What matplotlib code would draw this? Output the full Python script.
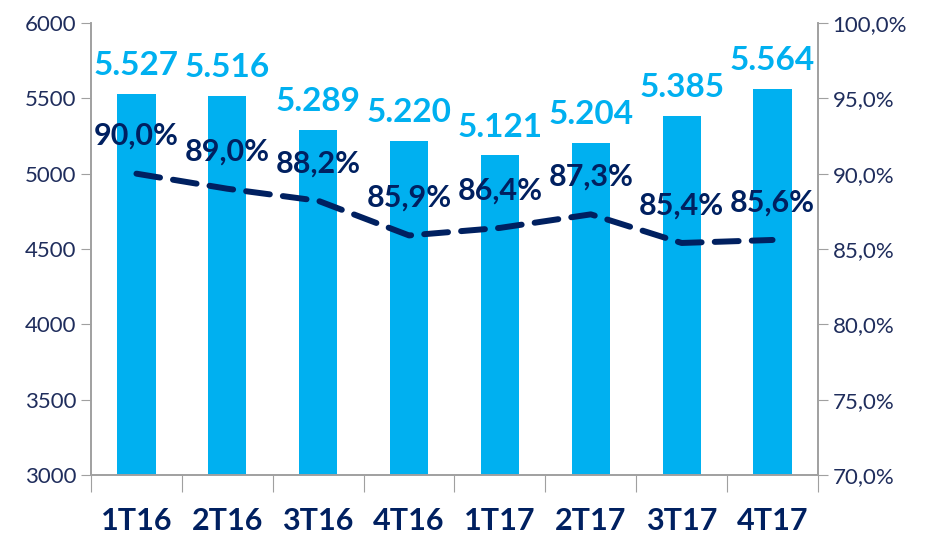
import matplotlib.pyplot as plt
from matplotlib import font_manager
import numpy as np

# dados
trimestres = ['1T16', '2T16', '3T16', '4T16', '1T17', '2T17', '3T17', '4T17']
valores = [5527, 5516, 5289, 5220, 5121, 5204, 5385, 5564]
percentuais = [90.0, 89.0, 88.2, 85.9, 86.4, 87.3, 85.4, 85.6]

azul_barra = '#00B0F0'
azul_escuro = '#002060'
cor_eixo = '#1F2D5C'

names = {f.name for f in font_manager.fontManager.ttflist}
fonte = 'Lato' if 'Lato' in names else 'DejaVu Sans'
plt.rcParams['font.family'] = [fonte, 'DejaVu Sans']

fig = plt.figure(figsize=(9.25, 5.36), dpi=100)
ax = fig.add_axes([0.0984, 0.1138, 0.7859, 0.8433])
ax2 = ax.twinx()

x = np.arange(len(trimestres))
ax.bar(x, valores, width=0.42, color=azul_barra, zorder=2)
ax.set_ylim(3000, 6000)
ax.set_xlim(-0.5, len(trimestres) - 0.5)
ax.set_yticks(range(3000, 6001, 500))

for xi, v in zip(x, valores):
    txt = f'{v:,}'.replace(',', '.')
    ax.annotate(txt, (xi, v), xytext=(0, 10), textcoords='offset points',
                ha='center', va='bottom', fontsize=24, fontweight='bold',
                color=azul_barra)

ax2.plot(x, percentuais, color=azul_escuro, lw=4.3, linestyle=(0, (4, 2.2)),
         dash_capstyle='round', zorder=3)
ax2.set_ylim(70, 100)
ax2.set_yticks(range(70, 101, 5))
ax2.set_yticklabels([f'{p:.1f}%'.replace('.', ',') for p in range(70, 101, 5)])

for xi, p in zip(x, percentuais):
    ax2.annotate(f'{p:.1f}%'.replace('.', ','), (xi, p), xytext=(0, 17),
                 textcoords='offset points', ha='center', va='bottom',
                 fontsize=22, fontweight='bold', color=azul_escuro)

# eixo x: marcas entre categorias
ax.set_xticks(np.arange(-0.5, len(trimestres), 1))
ax.set_xticklabels([])
ax.set_xticks(x, minor=True)
ax.set_xticklabels(trimestres, minor=True, fontsize=22, fontweight='bold',
                   color=azul_escuro)
ax.tick_params(axis='x', which='major', length=12, color='#A0A0A0', direction='out')
ax.tick_params(axis='x', which='minor', length=0, pad=23)

ax.tick_params(axis='y', labelsize=16, labelcolor=cor_eixo, color='#A0A0A0', length=7)
ax2.tick_params(axis='y', labelsize=16, labelcolor=cor_eixo, color='#A0A0A0', length=7)

for a in (ax, ax2):
    a.spines['top'].set_visible(False)
    for s in ('left', 'right', 'bottom'):
        a.spines[s].set_color('#A0A0A0')
        a.spines[s].set_linewidth(1.2)

ax.set_zorder(ax2.get_zorder() - 1)
ax.patch.set_visible(False)

fig.savefig('out.png', dpi=100)
